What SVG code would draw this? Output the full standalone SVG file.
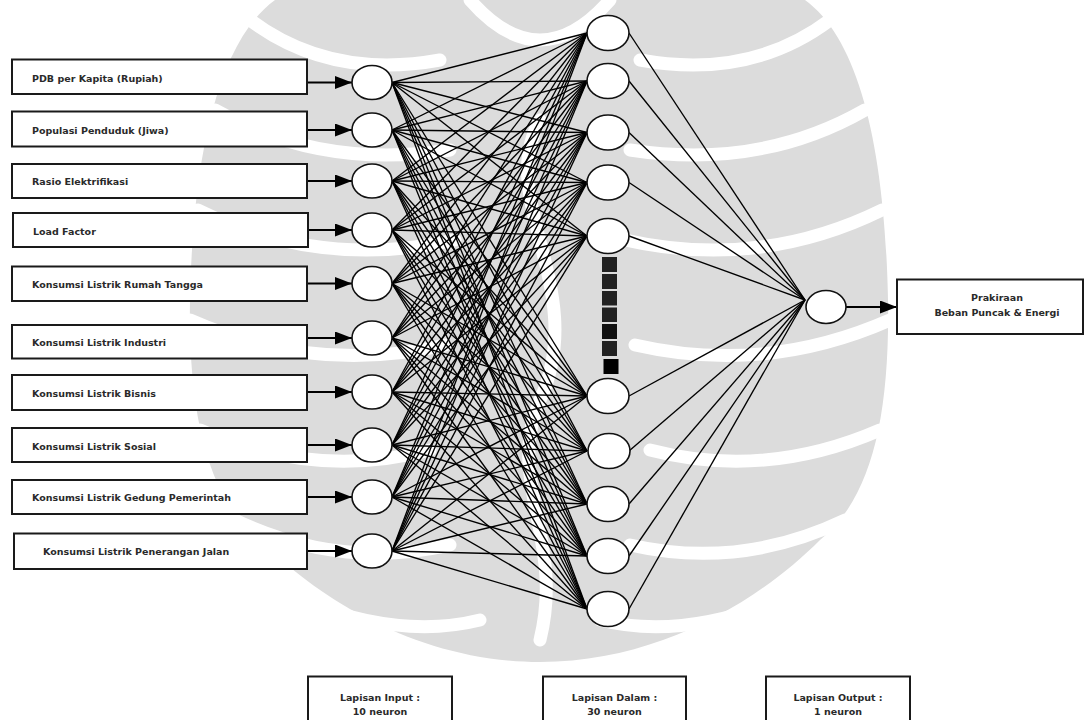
<svg xmlns="http://www.w3.org/2000/svg" width="1084" height="720" viewBox="0 0 1084 720">
<style>
.box{fill:#fff;stroke:#1a1a1a;stroke-width:2}
.neu{fill:#fff;stroke:#111;stroke-width:1.6}
.lbl{font-family:"DejaVu Sans",Verdana,sans-serif;font-weight:bold;font-size:9.5px;fill:#2a2a2a}
.mid{text-anchor:middle}
.con line{stroke:#000;stroke-width:1.35}
.arr{stroke:#000;stroke-width:2;fill:none}
.wm{fill:#dcdcdc}
.wms{fill:none;stroke:#fff;stroke-width:13;stroke-linecap:round}
</style>
<defs>
<marker id="ah" markerUnits="userSpaceOnUse" markerWidth="17" markerHeight="13" refX="17" refY="6.5" orient="auto">
<path d="M0,0 L17,6.5 L0,13 Z" fill="#000"/>
</marker>
</defs>
<rect width="1084" height="720" fill="#fff"/>
<g id="watermark">
<path class="wm" d="M275,0 L805,0 C860,40 885,150 888,300 C890,420 870,500 820,540 C760,600 660,662 540,662 C420,662 320,600 260,540 C210,500 188,420 190,300 C193,150 220,40 275,0 Z"/>
<path class="wms" d="M250,20 Q330,80 440,60 M215,110 Q320,170 450,150 M198,210 Q320,270 455,240 M190,320 Q315,375 445,345 M200,430 Q315,480 430,450 M235,520 Q340,570 450,545 M300,600 Q400,640 480,620"/>
<path class="wms" d="M830,20 Q750,80 640,60 M865,110 Q760,170 630,150 M882,210 Q760,270 625,240 M890,320 Q765,375 635,345 M880,430 Q765,480 650,450 M845,520 Q740,570 630,545 M780,600 Q680,640 600,620"/>
<path class="wms" d="M470,0 Q540,80 610,0 M540,120 C495,200 590,290 540,400 C505,480 565,540 540,640"/>
</g>
<g id="connectors" class="con">
<line x1="392" y1="82.5" x2="587" y2="33"/><line x1="392" y1="82.5" x2="587" y2="81"/><line x1="392" y1="82.5" x2="587" y2="132.5"/><line x1="392" y1="82.5" x2="587" y2="182.5"/><line x1="392" y1="82.5" x2="587" y2="236"/><line x1="392" y1="82.5" x2="587" y2="396"/><line x1="392" y1="82.5" x2="587" y2="451"/><line x1="392" y1="82.5" x2="587" y2="504"/><line x1="392" y1="82.5" x2="587" y2="556"/><line x1="392" y1="82.5" x2="587" y2="609"/>
<line x1="392" y1="130" x2="587" y2="33"/><line x1="392" y1="130" x2="587" y2="81"/><line x1="392" y1="130" x2="587" y2="132.5"/><line x1="392" y1="130" x2="587" y2="182.5"/><line x1="392" y1="130" x2="587" y2="236"/><line x1="392" y1="130" x2="587" y2="396"/><line x1="392" y1="130" x2="587" y2="451"/><line x1="392" y1="130" x2="587" y2="504"/><line x1="392" y1="130" x2="587" y2="556"/><line x1="392" y1="130" x2="587" y2="609"/>
<line x1="392" y1="181" x2="587" y2="33"/><line x1="392" y1="181" x2="587" y2="81"/><line x1="392" y1="181" x2="587" y2="132.5"/><line x1="392" y1="181" x2="587" y2="182.5"/><line x1="392" y1="181" x2="587" y2="236"/><line x1="392" y1="181" x2="587" y2="396"/><line x1="392" y1="181" x2="587" y2="451"/><line x1="392" y1="181" x2="587" y2="504"/><line x1="392" y1="181" x2="587" y2="556"/><line x1="392" y1="181" x2="587" y2="609"/>
<line x1="392" y1="230" x2="587" y2="33"/><line x1="392" y1="230" x2="587" y2="81"/><line x1="392" y1="230" x2="587" y2="132.5"/><line x1="392" y1="230" x2="587" y2="182.5"/><line x1="392" y1="230" x2="587" y2="236"/><line x1="392" y1="230" x2="587" y2="396"/><line x1="392" y1="230" x2="587" y2="451"/><line x1="392" y1="230" x2="587" y2="504"/><line x1="392" y1="230" x2="587" y2="556"/><line x1="392" y1="230" x2="587" y2="609"/>
<line x1="392" y1="283.5" x2="587" y2="33"/><line x1="392" y1="283.5" x2="587" y2="81"/><line x1="392" y1="283.5" x2="587" y2="132.5"/><line x1="392" y1="283.5" x2="587" y2="182.5"/><line x1="392" y1="283.5" x2="587" y2="236"/><line x1="392" y1="283.5" x2="587" y2="396"/><line x1="392" y1="283.5" x2="587" y2="451"/><line x1="392" y1="283.5" x2="587" y2="504"/><line x1="392" y1="283.5" x2="587" y2="556"/><line x1="392" y1="283.5" x2="587" y2="609"/>
<line x1="392" y1="338" x2="587" y2="33"/><line x1="392" y1="338" x2="587" y2="81"/><line x1="392" y1="338" x2="587" y2="132.5"/><line x1="392" y1="338" x2="587" y2="182.5"/><line x1="392" y1="338" x2="587" y2="236"/><line x1="392" y1="338" x2="587" y2="396"/><line x1="392" y1="338" x2="587" y2="451"/><line x1="392" y1="338" x2="587" y2="504"/><line x1="392" y1="338" x2="587" y2="556"/><line x1="392" y1="338" x2="587" y2="609"/>
<line x1="392" y1="392" x2="587" y2="33"/><line x1="392" y1="392" x2="587" y2="81"/><line x1="392" y1="392" x2="587" y2="132.5"/><line x1="392" y1="392" x2="587" y2="182.5"/><line x1="392" y1="392" x2="587" y2="236"/><line x1="392" y1="392" x2="587" y2="396"/><line x1="392" y1="392" x2="587" y2="451"/><line x1="392" y1="392" x2="587" y2="504"/><line x1="392" y1="392" x2="587" y2="556"/><line x1="392" y1="392" x2="587" y2="609"/>
<line x1="392" y1="445" x2="587" y2="33"/><line x1="392" y1="445" x2="587" y2="81"/><line x1="392" y1="445" x2="587" y2="132.5"/><line x1="392" y1="445" x2="587" y2="182.5"/><line x1="392" y1="445" x2="587" y2="236"/><line x1="392" y1="445" x2="587" y2="396"/><line x1="392" y1="445" x2="587" y2="451"/><line x1="392" y1="445" x2="587" y2="504"/><line x1="392" y1="445" x2="587" y2="556"/><line x1="392" y1="445" x2="587" y2="609"/>
<line x1="392" y1="497" x2="587" y2="33"/><line x1="392" y1="497" x2="587" y2="81"/><line x1="392" y1="497" x2="587" y2="132.5"/><line x1="392" y1="497" x2="587" y2="182.5"/><line x1="392" y1="497" x2="587" y2="236"/><line x1="392" y1="497" x2="587" y2="396"/><line x1="392" y1="497" x2="587" y2="451"/><line x1="392" y1="497" x2="587" y2="504"/><line x1="392" y1="497" x2="587" y2="556"/><line x1="392" y1="497" x2="587" y2="609"/>
<line x1="392" y1="551" x2="587" y2="33"/><line x1="392" y1="551" x2="587" y2="81"/><line x1="392" y1="551" x2="587" y2="132.5"/><line x1="392" y1="551" x2="587" y2="182.5"/><line x1="392" y1="551" x2="587" y2="236"/><line x1="392" y1="551" x2="587" y2="396"/><line x1="392" y1="551" x2="587" y2="451"/><line x1="392" y1="551" x2="587" y2="504"/><line x1="392" y1="551" x2="587" y2="556"/><line x1="392" y1="551" x2="587" y2="609"/>
<line x1="629" y1="33" x2="805" y2="300"/><line x1="629" y1="81" x2="805" y2="300"/><line x1="629" y1="132.5" x2="805" y2="300"/><line x1="629" y1="182.5" x2="805" y2="300"/><line x1="629" y1="236" x2="805" y2="300"/><line x1="629" y1="396" x2="805" y2="300"/><line x1="629" y1="451" x2="805" y2="300"/><line x1="629" y1="504" x2="805" y2="300"/><line x1="629" y1="556" x2="805" y2="300"/><line x1="629" y1="609" x2="805" y2="300"/>
<path class="arr" marker-end="url(#ah)" d="M307,82.5 H352"/>
<path class="arr" marker-end="url(#ah)" d="M307,130 H352"/>
<path class="arr" marker-end="url(#ah)" d="M307,181 H352"/>
<path class="arr" marker-end="url(#ah)" d="M308,230 H352"/>
<path class="arr" marker-end="url(#ah)" d="M307,283.5 H352"/>
<path class="arr" marker-end="url(#ah)" d="M307,338 H352"/>
<path class="arr" marker-end="url(#ah)" d="M307,392 H352"/>
<path class="arr" marker-end="url(#ah)" d="M307,445 H352"/>
<path class="arr" marker-end="url(#ah)" d="M307,497 H352"/>
<path class="arr" marker-end="url(#ah)" d="M307,551 H352"/>
<path class="arr" marker-end="url(#ah)" d="M846,307 H897"/>
</g>
<g id="in1"><rect class="box" x="12" y="59.5" width="295" height="34.5"/><text class="lbl" x="32" y="81.5">PDB per Kapita (Rupiah)</text></g>
<g id="in2"><rect class="box" x="12" y="111.5" width="295" height="35"/><text class="lbl" x="32" y="133.5">Populasi Penduduk (Jiwa)</text></g>
<g id="in3"><rect class="box" x="12" y="164" width="295" height="34"/><text class="lbl" x="32" y="184.5">Rasio Elektrifikasi</text></g>
<g id="in4"><rect class="box" x="13" y="213" width="295" height="34"/><text class="lbl" x="33" y="235">Load Factor</text></g>
<g id="in5"><rect class="box" x="12" y="266.5" width="295" height="34.5"/><text class="lbl" x="32" y="287.5">Konsumsi Listrik Rumah Tangga</text></g>
<g id="in6"><rect class="box" x="12" y="325" width="295" height="33.5"/><text class="lbl" x="32" y="345.5">Konsumsi Listrik Industri</text></g>
<g id="in7"><rect class="box" x="12" y="375" width="295" height="35"/><text class="lbl" x="32" y="396.5">Konsumsi Listrik Bisnis</text></g>
<g id="in8"><rect class="box" x="12" y="428" width="295" height="34"/><text class="lbl" x="32" y="449.5">Konsumsi Listrik Sosial</text></g>
<g id="in9"><rect class="box" x="12" y="480" width="295" height="34"/><text class="lbl" x="32" y="501">Konsumsi Listrik Gedung Pemerintah</text></g>
<g id="in10"><rect class="box" x="14" y="533.5" width="293" height="35.5"/><text class="lbl" x="43" y="555">Konsumsi Listrik Penerangan Jalan</text></g>
<g id="x1"><ellipse class="neu" cx="372" cy="82.5" rx="20" ry="17"/></g>
<g id="x2"><ellipse class="neu" cx="372" cy="130" rx="20" ry="17"/></g>
<g id="x3"><ellipse class="neu" cx="372" cy="181" rx="20" ry="17"/></g>
<g id="x4"><ellipse class="neu" cx="372" cy="230" rx="20" ry="17"/></g>
<g id="x5"><ellipse class="neu" cx="372" cy="283.5" rx="20" ry="17"/></g>
<g id="x6"><ellipse class="neu" cx="372" cy="338" rx="20" ry="17"/></g>
<g id="x7"><ellipse class="neu" cx="372" cy="392" rx="20" ry="17"/></g>
<g id="x8"><ellipse class="neu" cx="372" cy="445" rx="20" ry="17"/></g>
<g id="x9"><ellipse class="neu" cx="372" cy="497" rx="20" ry="17"/></g>
<g id="x10"><ellipse class="neu" cx="372" cy="551" rx="20" ry="17"/></g>
<g id="h1"><ellipse class="neu" cx="608" cy="33" rx="21" ry="17.5"/></g>
<g id="h2"><ellipse class="neu" cx="608" cy="81" rx="21" ry="17.5"/></g>
<g id="h3"><ellipse class="neu" cx="608" cy="132.5" rx="21" ry="17.5"/></g>
<g id="h4"><ellipse class="neu" cx="608" cy="182.5" rx="21" ry="17.5"/></g>
<g id="h5"><ellipse class="neu" cx="608" cy="236" rx="21" ry="17.5"/></g>
<g id="ellipsis">
<rect x="602" y="257" width="15" height="15" fill="#222"/>
<rect x="602" y="274" width="15" height="15" fill="#222"/>
<rect x="602" y="291" width="15" height="14.5" fill="#222"/>
<rect x="602" y="307.5" width="15" height="14.5" fill="#222"/>
<rect x="602" y="324" width="15" height="15" fill="#111"/>
<rect x="602" y="341" width="15" height="15" fill="#222"/>
<rect x="603.5" y="359" width="15" height="15" fill="#000"/>
</g>
<g id="h6"><ellipse class="neu" cx="608" cy="396" rx="21" ry="17.5"/></g>
<g id="h7"><ellipse class="neu" cx="609" cy="451" rx="21" ry="17.5"/></g>
<g id="h8"><ellipse class="neu" cx="608" cy="504" rx="21" ry="17.5"/></g>
<g id="h9"><ellipse class="neu" cx="608" cy="556" rx="21" ry="17.5"/></g>
<g id="h10"><ellipse class="neu" cx="608" cy="609" rx="21" ry="17.5"/></g>
<g id="out"><ellipse class="neu" cx="826" cy="307" rx="20" ry="16.5"/></g>
<g id="result"><rect class="box" x="897" y="279.5" width="186" height="54.5"/><text class="lbl mid" x="997" y="300.5">Prakiraan</text><text class="lbl mid" x="997" y="315.5">Beban Puncak &amp; Energi</text></g>
<g id="legend-input"><rect class="box" x="308" y="676.5" width="144" height="60"/><text class="lbl mid" x="380" y="700.5">Lapisan Input :</text><text class="lbl mid" x="380" y="714.5">10 neuron</text></g>
<g id="legend-hidden"><rect class="box" x="543" y="676.5" width="143" height="60"/><text class="lbl mid" x="614.5" y="700.5">Lapisan Dalam :</text><text class="lbl mid" x="614.5" y="714.5">30 neuron</text></g>
<g id="legend-output"><rect class="box" x="766" y="676.5" width="144" height="60"/><text class="lbl mid" x="838" y="700.5">Lapisan Output :</text><text class="lbl mid" x="838" y="714.5">1 neuron</text></g>
</svg>
